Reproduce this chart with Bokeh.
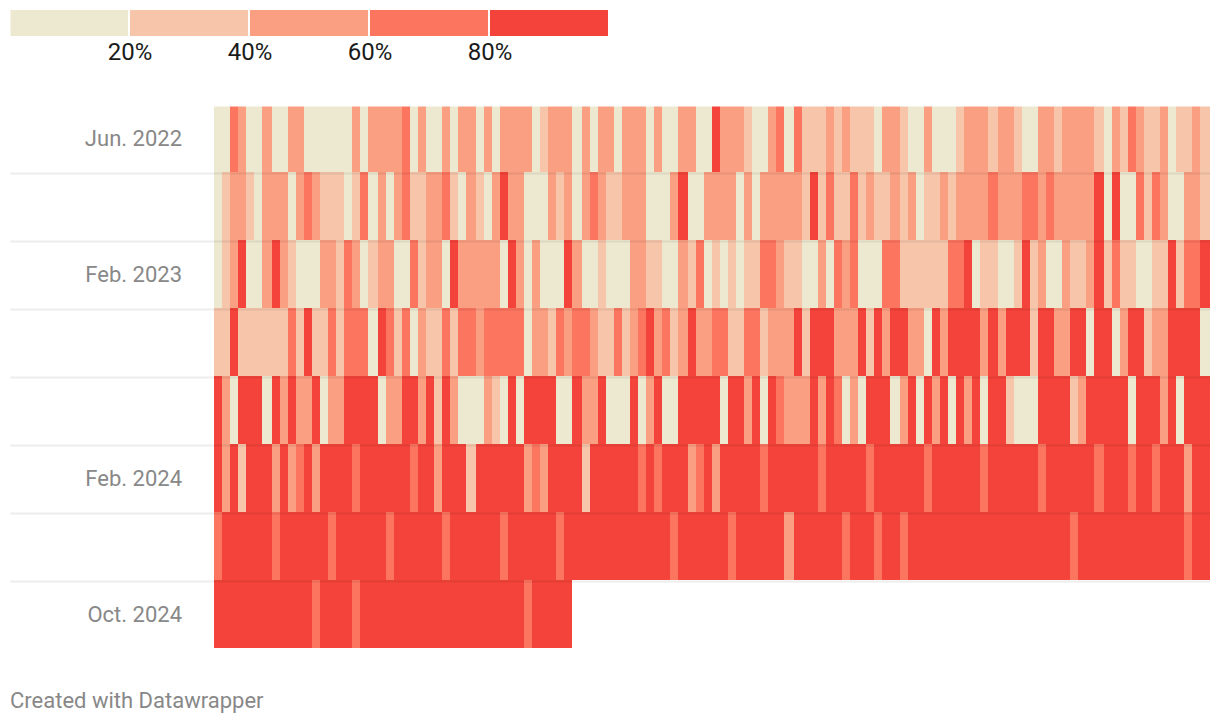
from itertools import groupby

from bokeh.core.properties import value
from bokeh.embed import file_html
from bokeh.layouts import column
from bokeh.models import ColumnDataSource, FixedTicker, Range1d
from bokeh.plotting import figure
from bokeh.resources import INLINE

# legend
BIN_COLORS = ["#ede8d0", "#f6c5aa", "#fa9f82", "#fb755f", "#f4433a"]
BIN_EDGES = [0, 20, 40, 60, 80, 100]
BIN_TICKS = [20, 40, 60, 80]

# y labels: row number -> label
ROW_LABELS = {0: "Jun. 2022", 2: "Feb. 2023", 5: "Feb. 2024", 7: "Oct. 2024"}

# columns that are wider than the others
WIDE_COLUMNS = [6, 19, 31, 44, 57, 70, 83, 95, 108, 121]

# each cell: which bin of the colour scale it falls in (0 = under 20%, 4 = over 80%)
ROW_1 = [0,0,3,2,0,0,2,0,0,2,2,0,0,0,0,0,0,2,0,2,2,2,2,3,0,2,0,0,2,0,2,2,0,2,0,2,2,2,2,0,1,2,2,2,0,2,0,2,2,0,2,2,2,0,2,0,0,2,2,0,0,4,2,2,2,1,0,0,2,3,0,3,1,1,1,2,1,2,1,1,1,0,2,2,1,0,0,2,0,0,0,1,2,2,2,1,2,2,1,0,0,2,2,1,2,2,2,2,1,0,2,1,3,2,1,1,2,0,1,1,2,1]
ROW_2 = [0,1,2,2,1,0,2,2,2,0,2,3,2,1,1,1,0,1,3,0,2,0,2,3,1,1,2,2,3,1,0,2,1,0,2,4,2,2,0,0,0,2,1,2,0,2,3,2,1,1,2,2,2,0,0,0,2,4,0,0,2,2,2,2,0,2,0,2,2,2,2,2,1,4,1,3,1,1,3,1,2,1,1,2,1,2,0,1,1,2,1,2,2,2,2,3,2,2,2,3,3,2,3,2,2,2,2,2,4,0,4,0,0,3,1,3,2,0,0,2,2,1]
ROW_3 = [0,1,2,4,0,0,2,4,2,1,0,0,0,2,2,1,3,2,0,1,2,2,0,0,3,1,2,2,0,4,2,2,2,2,2,0,4,2,0,2,0,0,0,4,2,0,0,1,0,0,0,2,2,1,1,0,0,2,1,3,0,1,0,1,0,1,1,3,3,2,1,1,0,0,2,0,3,2,3,0,0,0,3,3,1,1,1,1,1,1,3,3,4,0,1,1,0,0,1,4,1,2,0,0,2,1,1,2,4,1,3,1,1,0,0,1,1,4,1,3,3,4]
ROW_4 = [1,1,4,1,1,1,1,1,1,3,1,4,1,1,3,1,3,3,3,0,4,3,1,3,0,2,1,1,3,1,3,3,2,3,3,3,3,3,0,2,2,1,3,2,3,3,2,1,1,3,1,2,3,4,2,3,1,2,4,2,2,3,3,1,1,3,3,1,2,2,2,4,1,4,4,4,2,2,2,4,1,4,2,4,4,2,2,0,4,2,4,4,4,4,2,4,2,4,4,4,1,4,4,2,2,4,4,0,4,4,0,2,4,4,1,2,2,4,4,4,4,0]
ROW_5 = [4,2,0,4,4,4,0,4,2,4,2,2,4,0,2,2,4,4,4,4,0,2,2,4,4,2,4,1,4,2,0,0,0,2,1,0,4,0,4,4,4,4,0,0,4,2,2,4,0,0,0,4,0,2,4,0,0,4,4,4,4,4,0,4,4,2,4,0,4,3,2,2,2,4,2,4,3,0,2,0,4,4,4,0,2,4,0,4,2,4,0,4,2,4,0,4,4,1,0,0,0,4,4,4,4,1,2,4,4,4,4,4,0,4,4,4,2,4,0,4,4,4]
ROW_6 = [4,2,4,1,4,4,4,2,4,2,3,4,2,4,4,4,4,3,4,4,4,4,4,4,3,4,4,2,4,4,4,1,4,4,4,4,4,4,2,3,2,4,4,4,4,1,4,4,4,4,4,4,3,4,3,4,4,4,2,3,4,2,4,4,4,4,4,3,4,4,4,4,4,4,3,4,4,4,4,4,3,4,4,4,4,4,4,3,4,4,4,4,4,4,3,4,4,4,4,4,4,3,4,4,4,4,4,4,3,4,4,4,3,4,4,3,4,4,4,2,4,4]
ROW_7 = [3,4,4,4,4,4,4,3,4,4,4,4,4,4,3,4,4,4,4,4,4,3,4,4,4,4,4,4,3,4,4,4,4,4,4,3,4,4,4,4,4,4,3,4,4,4,4,4,4,4,4,4,4,4,4,4,3,4,4,4,4,4,4,3,4,4,4,4,4,4,2,4,4,4,4,4,4,3,4,4,4,3,4,4,3,4,4,4,4,4,4,4,4,4,4,4,4,4,4,4,4,4,4,4,4,3,4,4,4,4,4,4,4,4,4,4,4,4,4,3,4,4]
ROW_8 = [4,4,4,4,4,4,4,4,4,4,4,4,3,4,4,4,4,3,4,4,4,4,4,4,4,4,4,4,4,4,4,4,4,4,4,4,4,4,3,4,4,4,4,4]
ROWS = [ROW_1, ROW_2, ROW_3, ROW_4, ROW_5, ROW_6, ROW_7, ROW_8]
assert [len(r) for r in ROWS] == [122] * 7 + [44], [len(r) for r in ROWS]

FONT = "Roboto"
FIG_WIDTH = 1210
FRAME_W = 1200
BORDER = 10
HALF = 0.5  # the SVG canvas draws half a pixel off; the ranges take it back


def base(height, x_range, y_range, **kw):
    fig = figure(width=FIG_WIDTH, height=height, output_backend="svg", toolbar_location=None,
                 x_range=x_range, y_range=y_range, min_border_left=BORDER, min_border_right=0,
                 outline_line_color=None, background_fill_color="white", border_fill_color="white", **kw)
    return fig


# ---------- colour scale ----------
LEG_PX = 6  # pixels per percent
LEG_H = 26
gap = 2 / LEG_PX
lx0 = HALF / LEG_PX
ly0 = -HALF / LEG_H
# the frame is one pixel taller than the swatches, so its clip does not shave their top edge
leg = base(106, Range1d(lx0, lx0 + FRAME_W / LEG_PX), Range1d(ly0, ly0 + (LEG_H + 1) / LEG_H),
           min_border_top=BORDER - 1, min_border_bottom=70)
leg.quad(left=BIN_EDGES[:-1], right=[e - gap for e in BIN_EDGES[1:]], bottom=0, top=1,
         fill_color=BIN_COLORS, line_color=None)
leg.grid.visible = False
leg.yaxis.visible = False
ax = leg.xaxis[0]
ax.ticker = FixedTicker(ticks=BIN_TICKS)
ax.major_label_overrides = {t: f"{t}%" for t in BIN_TICKS}
ax.major_label_text_font = FONT
ax.major_label_text_font_size = "24px"
ax.major_label_text_color = "#1a1a1a"
ax.major_label_standoff = 1
ax.major_tick_out = 0
ax.major_tick_in = 0
ax.axis_line_color = None
ax.major_tick_line_color = None
ax.minor_tick_line_color = None

# ---------- heat map ----------
COL_UNIT_PX = 8
ROW_PX = 68
LEFT_PAD_PX = 204
LABEL_GAP_PX = 32
FRAME_H = 542
n_rows = len(ROWS)
y_top = n_rows - FRAME_H / ROW_PX

edges = [0.0]
for c in range(122):
    edges.append(edges[-1] + (1.25 if c in WIDE_COLUMNS else 1.0))

# neighbouring cells of one colour are drawn as one rectangle, so that no hairlines show between them
lefts, rights, tops, bottoms, colors = [], [], [], [], []
for r, row in enumerate(ROWS):
    c = 0
    for b, run in groupby(row):
        n = len(list(run))
        lefts.append(edges[c])
        rights.append(edges[c + n])
        tops.append(max(r, y_top))
        bottoms.append(r + 1)
        colors.append(BIN_COLORS[b])
        c += n
src = ColumnDataSource(dict(left=lefts, right=rights, top=tops, bottom=bottoms, color=colors))

x0 = -LEFT_PAD_PX / COL_UNIT_PX + HALF / COL_UNIT_PX
y_shift = HALF / ROW_PX
p = base(FRAME_H, Range1d(x0, x0 + FRAME_W / COL_UNIT_PX), Range1d(n_rows + y_shift, y_top + y_shift),
         min_border_top=0, min_border_bottom=0)
p.quad(left="left", right="right", top="top", bottom="bottom", fill_color="color", line_color=None, source=src)

p.axis.visible = False
p.xgrid.visible = False

rule_y = [r + 1 + 1 / ROW_PX for r in range(n_rows - 1)]
g = p.ygrid[0]
g.ticker = FixedTicker(ticks=rule_y)
g.level = "overlay"
g.grid_line_color = "black"
g.grid_line_alpha = 0.07
g.grid_line_width = 2

p.text(x=[-LABEL_GAP_PX / COL_UNIT_PX] * len(ROW_LABELS), y=[r + 0.5 for r in ROW_LABELS],
       text=list(ROW_LABELS.values()), text_font=value(FONT), text_font_size="22px",
       text_color="#888888", text_align="right", text_baseline="middle")

# ---------- footer ----------
foot = base(68, Range1d(HALF, FRAME_W + HALF), Range1d(68, 0), min_border_top=0, min_border_bottom=0)
foot.axis.visible = False
foot.grid.visible = False
foot.text(x=[0], y=[52], text=["Created with Datawrapper"], text_font=value(FONT), text_font_size="22px",
          text_color="#888888", text_align="left", text_baseline="middle")

layout = column(leg, p, foot, spacing=0)
open("out.html", "w").write(file_html(layout, INLINE))
